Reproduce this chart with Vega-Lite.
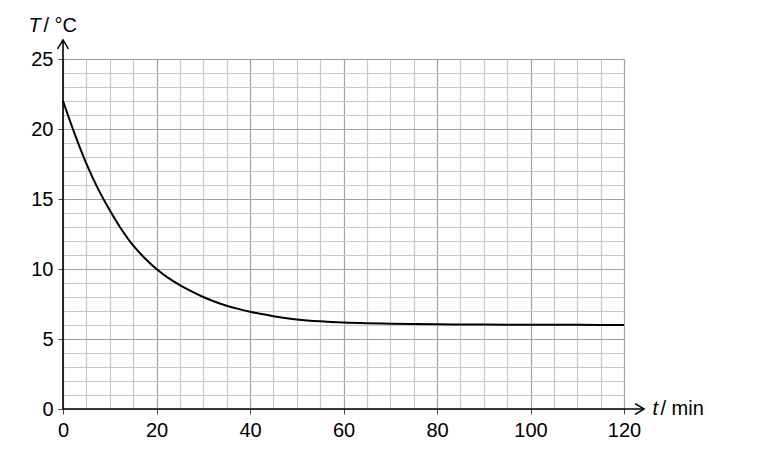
{
  "$schema": "https://vega.github.io/schema/vega-lite/v6.json",
  "width": 561,
  "height": 350,
  "autosize": "none",
  "padding": {"left": 63, "top": 59, "right": 137, "bottom": 52},
  "background": "white",
  "config": {"font": "Liberation Sans", "view": {"stroke": null}},
  "datasets": {
    "curve": [
      {"t": 0, "T": 22.0}, {"t": 2.5, "T": 19.65}, {"t": 5, "T": 17.52}, {"t": 7.5, "T": 15.72},
      {"t": 10, "T": 14.2}, {"t": 12.5, "T": 12.84}, {"t": 15, "T": 11.68}, {"t": 17.5, "T": 10.77},
      {"t": 20, "T": 10.0}, {"t": 22.5, "T": 9.37}, {"t": 25, "T": 8.85}, {"t": 27.5, "T": 8.4},
      {"t": 30, "T": 8.0}, {"t": 32.5, "T": 7.66}, {"t": 35, "T": 7.38}, {"t": 37.5, "T": 7.15},
      {"t": 40, "T": 6.95}, {"t": 42.5, "T": 6.78}, {"t": 45, "T": 6.63}, {"t": 47.5, "T": 6.5},
      {"t": 50, "T": 6.4}, {"t": 55, "T": 6.26}, {"t": 60, "T": 6.17}, {"t": 65, "T": 6.12},
      {"t": 70, "T": 6.09}, {"t": 80, "T": 6.05}, {"t": 90, "T": 6.03}, {"t": 100, "T": 6.02},
      {"t": 110, "T": 6.01}, {"t": 120, "T": 6.0}
    ],
    "axislines": [
      {"t": 0, "T": 0, "t2": 0, "T2": 26.36},
      {"t": 0, "T": 0, "t2": 124.3, "T2": 0}
    ],
    "arrows": [
      {"t": 0, "T": 26.36, "dir": "up"},
      {"t": 124.3, "T": 0, "dir": "right"}
    ]
  },
  "layer": [
    {
      "data": {"name": "curve"},
      "mark": {"type": "line", "interpolate": "monotone", "color": "black", "strokeWidth": 2},
      "encoding": {
        "x": {
          "field": "t", "type": "quantitative",
          "scale": {"domain": [0, 120], "nice": false, "zero": false},
          "axis": {
            "values": [0,5,10,15,20,25,30,35,40,45,50,55,60,65,70,75,80,85,90,95,100,105,110,115,120],
            "labelExpr": "datum.value % 20 === 0 ? datum.label : ''",
            "grid": true,
            "gridColor": {"condition": {"test": "datum.value % 20 === 0", "value": "#a2a2a2"}, "value": "#c8c8c8"},
            "gridWidth": 1.2,
            "domain": false,
            "tickSize": 5,
            "tickColor": "#444444",
            "tickWidth": 1,
            "tickOpacity": {"condition": {"test": "datum.value % 20 === 0", "value": 1}, "value": 0},
            "labelFontSize": 20,
            "labelColor": "black",
            "labelPadding": 6,
            "labelFlush": false,
            "labelOverlap": false,
            "title": "t",
            "titleFontStyle": "italic",
            "titleFontWeight": "normal",
            "titleFontSize": 20,
            "titleColor": "black",
            "titleX": 589,
            "titleY": 5,
            "titleAlign": "left",
            "titleBaseline": "alphabetic"
          }
        },
        "y": {
          "field": "T", "type": "quantitative",
          "scale": {"domain": [0, 25], "nice": false, "zero": false},
          "axis": {
            "values": [0,1,2,3,4,5,6,7,8,9,10,11,12,13,14,15,16,17,18,19,20,21,22,23,24,25],
            "labelExpr": "datum.value % 5 === 0 ? datum.label : ''",
            "grid": true,
            "gridColor": {"condition": {"test": "datum.value % 5 === 0", "value": "#a2a2a2"}, "value": "#c8c8c8"},
            "gridWidth": 1.2,
            "domain": false,
            "tickSize": 5,
            "tickColor": "#444444",
            "tickWidth": 1,
            "tickOpacity": {"condition": {"test": "datum.value % 5 === 0", "value": 1}, "value": 0},
            "labelFontSize": 20,
            "labelColor": "black",
            "labelPadding": 5,
            "labelOverlap": false,
            "title": "T",
            "titleAngle": 0,
            "titleFontStyle": "italic",
            "titleFontWeight": "normal",
            "titleFontSize": 20,
            "titleColor": "black",
            "titleX": -35,
            "titleY": -28,
            "titleAlign": "left",
            "titleBaseline": "alphabetic"
          }
        }
      }
    },
    {
      "data": {"name": "axislines"},
      "mark": {"type": "rule", "color": "black", "strokeWidth": 1.6},
      "encoding": {
        "x": {"field": "t", "type": "quantitative", "scale": {"domain": [0, 120], "nice": false, "zero": false}, "axis": null},
        "x2": {"field": "t2"},
        "y": {"field": "T", "type": "quantitative", "scale": {"domain": [0, 25], "nice": false, "zero": false}, "axis": null},
        "y2": {"field": "T2"}
      }
    },
    {
      "data": {"name": "arrows"},
      "mark": {"type": "point", "filled": false, "stroke": "black", "strokeWidth": 1.5, "size": 324, "opacity": 1},
      "encoding": {
        "x": {
          "field": "t", "type": "quantitative",
          "scale": {"domain": [0, 120], "nice": false, "zero": false},
          "axis": {
            "orient": "bottom", "domain": false, "ticks": false, "labels": false, "grid": false,
            "title": "/ min", "titleFontWeight": "normal", "titleFontSize": 20, "titleColor": "black",
            "titleX": 597, "titleY": 5, "titleAlign": "left", "titleBaseline": "alphabetic"
          }
        },
        "y": {
          "field": "T", "type": "quantitative",
          "scale": {"domain": [0, 25], "nice": false, "zero": false},
          "axis": {
            "orient": "left", "domain": false, "ticks": false, "labels": false, "grid": false,
            "title": "/ °C", "titleAngle": 0, "titleFontWeight": "normal", "titleFontSize": 20, "titleColor": "black",
            "titleX": -20, "titleY": -28, "titleAlign": "left", "titleBaseline": "alphabetic"
          }
        },
        "shape": {
          "field": "dir", "type": "nominal",
          "scale": {"domain": ["up", "right"], "range": ["M-0.6,1L0,0L0.6,1", "M-1,-0.6L0,0L-1,0.6"]},
          "legend": null
        }
      }
    }
  ],
  "resolve": {"axis": {"x": "independent", "y": "independent"}}
}
